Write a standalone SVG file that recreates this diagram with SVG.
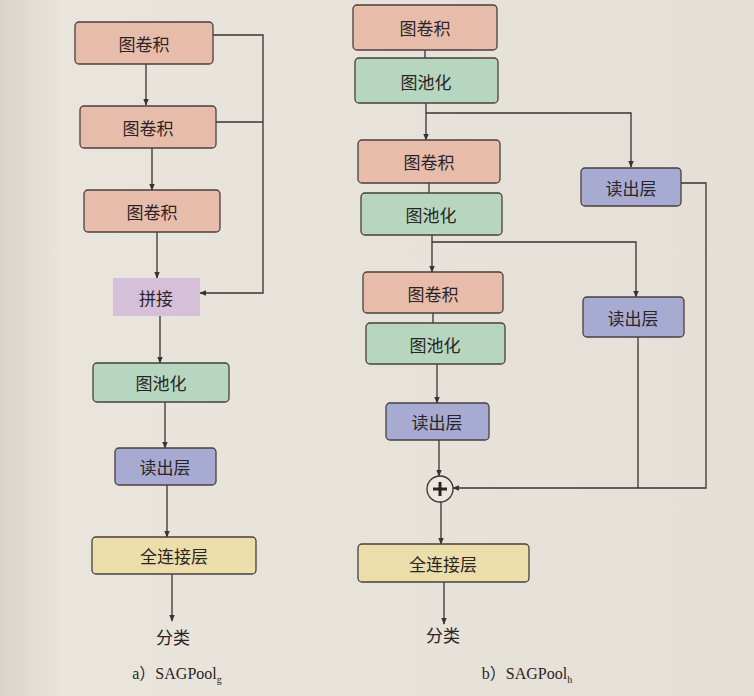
<svg xmlns="http://www.w3.org/2000/svg" width="754" height="696" viewBox="0 0 754 696">
<defs>
<marker id="ah" viewBox="0 0 10 10" refX="9" refY="5" markerWidth="7" markerHeight="7" orient="auto" markerUnits="userSpaceOnUse">
<path d="M0,1 L10,5 L0,9 z" fill="#3a3232"/>
</marker>
<linearGradient id="bg" x1="0" y1="0" x2="1" y2="0">
<stop offset="0" stop-color="#d9d3cb"/>
<stop offset="0.08" stop-color="#e9e4dc"/>
<stop offset="1" stop-color="#e4dfd7"/>
</linearGradient>
<style>
.box{stroke:#4a3f3f;stroke-width:1.3}
.conv{fill:#e8bcab}
.pool{fill:#b6d6bf}
.read{fill:#a8abd1}
.fc{fill:#ecdeaa}
.cat{fill:#d6bfd8;stroke:none}
.t{font-family:"Noto Sans CJK SC","Noto Sans",sans-serif;font-size:17px;fill:#2b2424;text-anchor:middle;dominant-baseline:central}
.cap{font-family:"Liberation Serif","Noto Sans CJK SC",serif;font-size:16px;fill:#2b2424;text-anchor:middle}
.ln{fill:none;stroke:#3a3232;stroke-width:1.3}
</style>
</defs>
<rect width="754" height="696" fill="url(#bg)"/>

<g id="connectors">
<path class="ln" d="M146,64 V105" marker-end="url(#ah)"/>
<path class="ln" d="M152,148 V190" marker-end="url(#ah)"/>
<path class="ln" d="M157,232 V278" marker-end="url(#ah)"/>
<path class="ln" d="M213,35 H263 V293 H200" marker-end="url(#ah)"/>
<path class="ln" d="M216,122 H263"/>
<path class="ln" d="M160,316 V363" marker-end="url(#ah)"/>
<path class="ln" d="M165,402 V448" marker-end="url(#ah)"/>
<path class="ln" d="M167,485 V537" marker-end="url(#ah)"/>
<path class="ln" d="M172,574 V621" marker-end="url(#ah)"/>
<path class="ln" d="M425,50 V58"/>
<path class="ln" d="M426,103 V140" marker-end="url(#ah)"/>
<path class="ln" d="M426,113 H631 V167" marker-end="url(#ah)"/>
<path class="ln" d="M429,183 V193"/>
<path class="ln" d="M432,235 V272" marker-end="url(#ah)"/>
<path class="ln" d="M432,242 H636 V297" marker-end="url(#ah)"/>
<path class="ln" d="M433,313 V323"/>
<path class="ln" d="M437,364 V403" marker-end="url(#ah)"/>
<path class="ln" d="M439,440 V476" marker-end="url(#ah)"/>
<path class="ln" d="M681,183 H706 V488 H453" marker-end="url(#ah)"/>
<path class="ln" d="M638,337 V488"/>
<path class="ln" d="M441,502 V544" marker-end="url(#ah)"/>
<path class="ln" d="M444,582 V624" marker-end="url(#ah)"/>
</g>

<g id="a-conv1"><rect class="box conv" x="75" y="22" width="138" height="42" rx="4"/><text class="t" x="144" y="43">图卷积</text></g>
<g id="a-conv2"><rect class="box conv" x="80" y="106" width="136" height="42" rx="4"/><text class="t" x="148" y="127">图卷积</text></g>
<g id="a-conv3"><rect class="box conv" x="84" y="190" width="136" height="42" rx="4"/><text class="t" x="152" y="211">图卷积</text></g>
<g id="a-cat"><rect class="cat" x="113" y="278" width="87" height="38"/><text class="t" x="156" y="297">拼接</text></g>
<g id="a-pool"><rect class="box pool" x="93" y="363" width="136" height="39" rx="4"/><text class="t" x="161" y="382">图池化</text></g>
<g id="a-read"><rect class="box read" x="115" y="448" width="101" height="37" rx="4"/><text class="t" x="165" y="466">读出层</text></g>
<g id="a-fc"><rect class="box fc" x="92" y="537" width="164" height="37" rx="4"/><text class="t" x="174" y="555">全连接层</text></g>
<g id="a-out"><text class="t" x="173" y="636">分类</text></g>
<g id="a-cap"><text class="cap" x="177" y="679">a）SAGPool<tspan font-size="10" dy="4">g</tspan></text></g>

<g id="b-conv1"><rect class="box conv" x="353" y="5" width="144" height="45" rx="4"/><text class="t" x="425" y="27">图卷积</text></g>
<g id="b-pool1"><rect class="box pool" x="355" y="58" width="143" height="45" rx="4"/><text class="t" x="426" y="81">图池化</text></g>
<g id="b-conv2"><rect class="box conv" x="358" y="140" width="142" height="43" rx="4"/><text class="t" x="429" y="161">图卷积</text></g>
<g id="b-pool2"><rect class="box pool" x="361" y="193" width="141" height="42" rx="4"/><text class="t" x="431" y="214">图池化</text></g>
<g id="b-read1"><rect class="box read" x="581" y="168" width="100" height="38" rx="4"/><text class="t" x="631" y="187">读出层</text></g>
<g id="b-conv3"><rect class="box conv" x="363" y="272" width="140" height="41" rx="4"/><text class="t" x="433" y="293">图卷积</text></g>
<g id="b-pool3"><rect class="box pool" x="366" y="323" width="139" height="41" rx="4"/><text class="t" x="435" y="344">图池化</text></g>
<g id="b-read2"><rect class="box read" x="583" y="297" width="101" height="40" rx="4"/><text class="t" x="633" y="317">读出层</text></g>
<g id="b-read3"><rect class="box read" x="386" y="403" width="103" height="37" rx="4"/><text class="t" x="437" y="421">读出层</text></g>
<g id="b-sum"><circle cx="440" cy="489" r="13" fill="#ebe6de" stroke="#3a3232" stroke-width="1.3"/><path d="M433,489 H447 M440,482 V496" stroke="#2b2424" stroke-width="3"/></g>
<g id="b-fc"><rect class="box fc" x="358" y="544" width="171" height="38" rx="4"/><text class="t" x="443" y="563">全连接层</text></g>
<g id="b-out"><text class="t" x="443" y="634">分类</text></g>
<g id="b-cap"><text class="cap" x="527" y="679">b）SAGPool<tspan font-size="10" dy="4">h</tspan></text></g>
</svg>
